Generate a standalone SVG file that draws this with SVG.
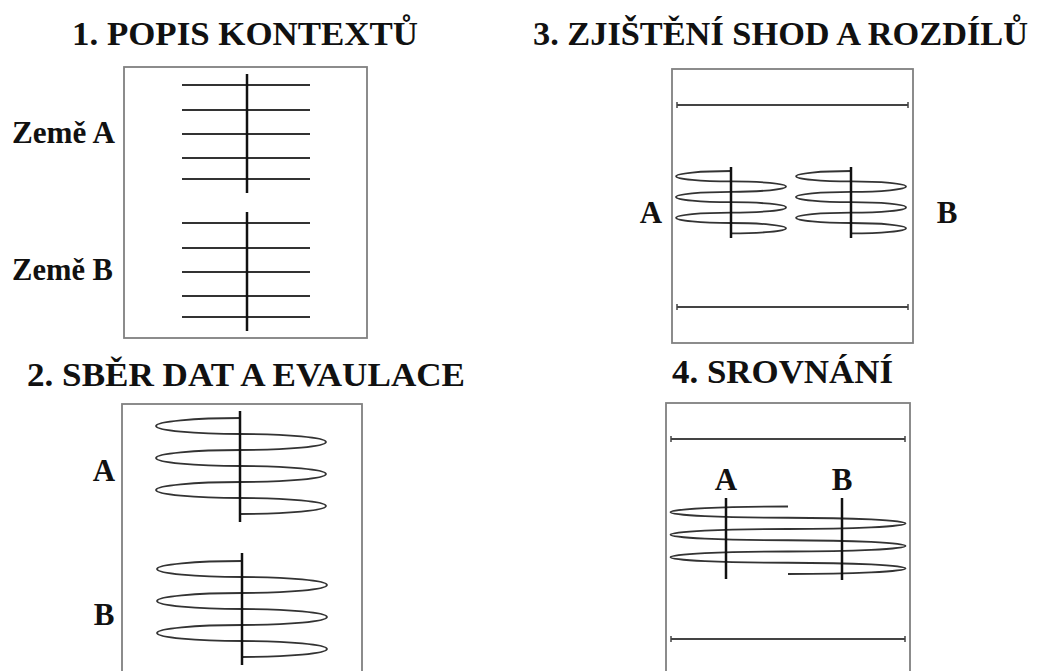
<svg xmlns="http://www.w3.org/2000/svg" width="1045" height="671" viewBox="0 0 1045 671">
  <style>
    .title { font-family: "Liberation Serif", "Times New Roman", serif; font-weight: bold; font-size: 34px; fill: #111; }
    .label { font-family: "Liberation Serif", "Times New Roman", serif; font-weight: bold; font-size: 31px; fill: #111; }
    .frame { fill: #fff; stroke: #808080; stroke-width: 1.8; }
    .rung { stroke: #333; stroke-width: 2; fill: none; }
    .axis { stroke: #111; stroke-width: 2.5; fill: none; }
    .coil { stroke: #333; stroke-width: 1.8; fill: none; }
    .bar { stroke: #444; stroke-width: 2; fill: none; }
    .tick { stroke: #444; stroke-width: 1.5; fill: none; }
  </style>

  <rect width="1045" height="671" fill="#fff"/>

  <!-- Panel 1: context description, two countries as parallel ladders -->
  <g id="panel1">
    <text class="title" x="72" y="45" textLength="346" lengthAdjust="spacingAndGlyphs">1. POPIS KONTEXTŮ</text>
    <rect class="frame" x="124" y="67" width="243" height="271"/>
    <text class="label" x="12" y="143" textLength="103" lengthAdjust="spacingAndGlyphs">Země A</text>
    <text class="label" x="12" y="280" textLength="101" lengthAdjust="spacingAndGlyphs">Země B</text>
    <g id="ladderA">
      <path class="rung" d="M182 85H310M182 110H310M182 134H310M182 158H310M182 179H310"/>
      <line class="axis" x1="247" y1="74" x2="247" y2="193"/>
    </g>
    <g id="ladderB">
      <path class="rung" d="M182 223H310M182 248H310M182 272H310M182 296H310M182 317H310"/>
      <line class="axis" x1="247" y1="212" x2="247" y2="331"/>
    </g>
  </g>

  <!-- Panel 2: data collection, each country as a coil round its axis.
       A coil is a chain of half-ellipses, alternating left and right. -->
  <g id="panel2">
    <text class="title" x="27" y="386" textLength="438" lengthAdjust="spacingAndGlyphs">2. SBĚR DAT A EVAULACE</text>
    <rect class="frame" x="122" y="404" width="240" height="280"/>
    <text class="label" x="104" y="481" text-anchor="middle">A</text>
    <text class="label" x="104" y="625" text-anchor="middle">B</text>
    <g id="coilA">
      <path class="coil" d="M241 418
        a85 8 0 0 0 0 16 a85 8 0 0 1 0 16
        a85 8 0 0 0 0 16 a85 8 0 0 1 0 16
        a85 8 0 0 0 0 16 a85 8 0 0 1 0 16"/>
      <line class="axis" x1="240" y1="411" x2="240" y2="522"/>
    </g>
    <g id="coilB">
      <path class="coil" d="M242 561
        a85 8 0 0 0 0 16 a85 8 0 0 1 0 16
        a85 8 0 0 0 0 16 a85 8 0 0 1 0 16
        a85 8 0 0 0 0 16 a85 8 0 0 1 0 16"/>
      <line class="axis" x1="242" y1="553" x2="242" y2="665"/>
    </g>
  </g>

  <!-- Panel 3: similarities and differences, two coils between common bounds -->
  <g id="panel3">
    <text class="title" x="533" y="45" textLength="495" lengthAdjust="spacingAndGlyphs">3. ZJIŠTĚNÍ SHOD A ROZDÍLŮ</text>
    <rect class="frame" x="672" y="69" width="241" height="274"/>
    <g id="bounds3">
      <path class="bar" d="M677 105H908M677 307H908"/>
      <path class="tick" d="M677 102V108M908 102V108M677 304V310M908 304V310"/>
    </g>
    <text class="label" x="651" y="223" text-anchor="middle">A</text>
    <text class="label" x="947" y="223" text-anchor="middle">B</text>
    <g id="coil3A">
      <path class="coil" d="M731 171
        a55 5.2 0 0 0 0 10.4 a55 5.2 0 0 1 0 10.4
        a55 5.2 0 0 0 0 10.4 a55 5.2 0 0 1 0 10.4
        a55 5.2 0 0 0 0 10.4 a55 5.2 0 0 1 0 10.4"/>
      <line class="axis" x1="731" y1="167" x2="731" y2="238"/>
    </g>
    <g id="coil3B">
      <path class="coil" d="M851 171
        a55 5.2 0 0 0 0 10.4 a55 5.2 0 0 1 0 10.4
        a55 5.2 0 0 0 0 10.4 a55 5.2 0 0 1 0 10.4
        a55 5.2 0 0 0 0 10.4 a55 5.2 0 0 1 0 10.4"/>
      <line class="axis" x1="851" y1="167" x2="851" y2="238"/>
    </g>
  </g>

  <!-- Panel 4: comparison, one shared coil through both axes -->
  <g id="panel4">
    <text class="title" x="672" y="383" textLength="221" lengthAdjust="spacingAndGlyphs">4. SROVNÁNÍ</text>
    <rect class="frame" x="666" y="403" width="244" height="280"/>
    <g id="bounds4">
      <path class="bar" d="M671 439H905M671 639H905"/>
      <path class="tick" d="M671 436V442M905 436V442M671 636V642M905 636V642"/>
    </g>
    <text class="label" x="726" y="490" text-anchor="middle">A</text>
    <text class="label" x="842" y="490" text-anchor="middle">B</text>
    <path id="coil4" class="coil" d="M788 506.5
      a117 5.6 0 0 0 0 11.25 a117 5.6 0 0 1 0 11.25
      a117 5.6 0 0 0 0 11.25 a117 5.6 0 0 1 0 11.25
      a117 5.6 0 0 0 0 11.25 a117 5.6 0 0 1 0 11.25"/>
    <line class="axis" x1="726" y1="498" x2="726" y2="579"/>
    <line class="axis" x1="842" y1="498" x2="842" y2="580"/>
  </g>
</svg>
